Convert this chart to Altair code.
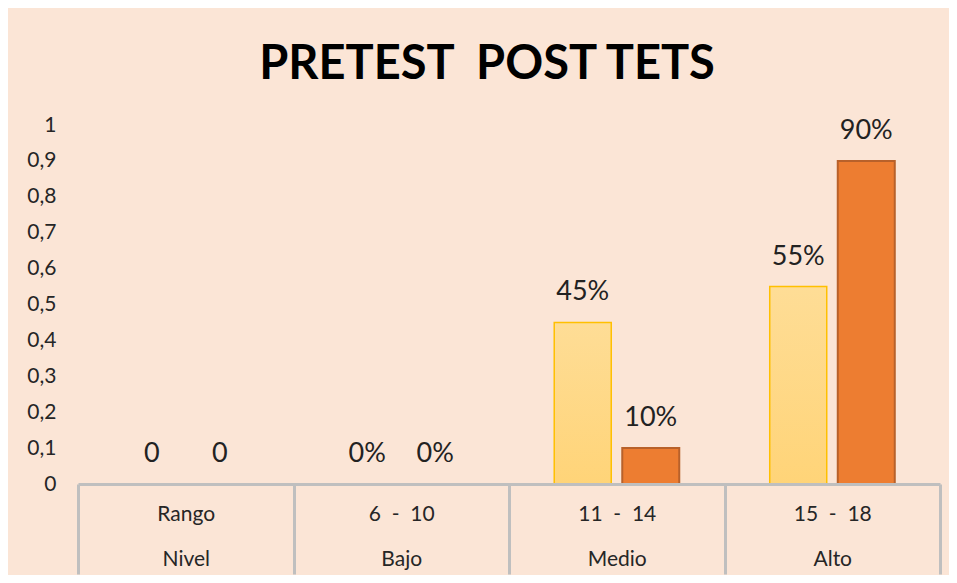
import altair as alt
import pandas as pd

rangos = ["Rango", "6  -  10", "11  -  14", "15  -  18"]
niveles = ["Nivel", "Bajo", "Medio", "Alto"]
series = ["Pretest", "Post test"]
pretest = [0, 0, 0.45, 0.55]
postest = [0, 0, 0.10, 0.90]
pre_labels = ["0", "0%", "45%", "55%"]
post_labels = ["0", "0%", "10%", "90%"]
y_ticks = [0, 0.1, 0.2, 0.3, 0.4, 0.5, 0.6, 0.7, 0.8, 0.9, 1]

NB = "\u00a0"
cats = [r.replace(" ", NB) + "|" + n for r, n in zip(rangos, niveles)]

rows = []
for i, c in enumerate(cats):
    rows.append({"cat": c, "serie": series[0], "valor": pretest[i], "etiqueta": pre_labels[i]})
    rows.append({"cat": c, "serie": series[1], "valor": postest[i], "etiqueta": post_labels[i]})
df = pd.DataFrame(rows)

FONT = "Lato"
BG = "#FBE5D6"

x_enc = alt.X(
    "cat:N", sort=cats, title=None,
    scale=alt.Scale(paddingInner=0, paddingOuter=0),
    axis=alt.Axis(
        labelExpr="split(datum.label, '|')",
        labelAngle=0, labelFont=FONT, labelFontSize=21, labelColor="#262626",
        labelLineHeight=45, labelPadding=-71, labelBaseline="top",
        domainColor="#BFBFBF", domainWidth=3,
        tickColor="#BFBFBF", tickWidth=3, tickSize=90, tickBand="extent",
        zindex=1,
    ),
)
xo_enc = alt.XOffset("serie:N", sort=series,
                     scale=alt.Scale(paddingInner=0.162, paddingOuter=0.665))
y_enc = alt.Y(
    "valor:Q", title=None,
    scale=alt.Scale(domain=[0, 1], nice=False),
    axis=alt.Axis(values=y_ticks, labelExpr="replace(format(datum.value, '~g'), '.', ',')",
                  labelFont=FONT, labelFontSize=21, labelColor="#262626",
                  labelPadding=22, ticks=False, domain=False, grid=False),
)

base = alt.Chart(df)

pre_bars = base.transform_filter(alt.datum.serie == series[0]).mark_bar(
    color=alt.Gradient(gradient="linear", x1=0, y1=0, x2=0, y2=1,
                       stops=[alt.GradientStop(color="#FEDD96", offset=0),
                              alt.GradientStop(color="#FFD478", offset=1)]),
    stroke="#FFC000", strokeWidth=1.5,
).encode(x=x_enc, xOffset=xo_enc, y=y_enc)

post_bars = base.transform_filter(alt.datum.serie == series[1]).mark_bar(
    color="#ED7D31", stroke="#B8612A", strokeWidth=2,
).encode(x=x_enc, xOffset=xo_enc, y=y_enc)

labels = base.mark_text(font=FONT, fontSize=27, color="#222222", baseline="middle", dy=-30).encode(
    x=x_enc, xOffset=xo_enc, y=y_enc, text="etiqueta:N")

chart = alt.layer(pre_bars, post_bars, labels).properties(
    width=862, height=359,
    title=alt.TitleParams("PRETEST" + NB + NB + "POST TETS", font=FONT, fontSize=47, fontWeight="bold",
                          color="#000000", anchor="middle", dx=-22, offset=25),
    background=BG,
    padding={"left": 70, "top": 117, "right": 9, "bottom": 91},
    autosize=alt.AutoSizeParams(type="none"),
).configure_view(stroke=None)

chart.save("out.html", embed_options={"renderer": "svg", "actions": False})
